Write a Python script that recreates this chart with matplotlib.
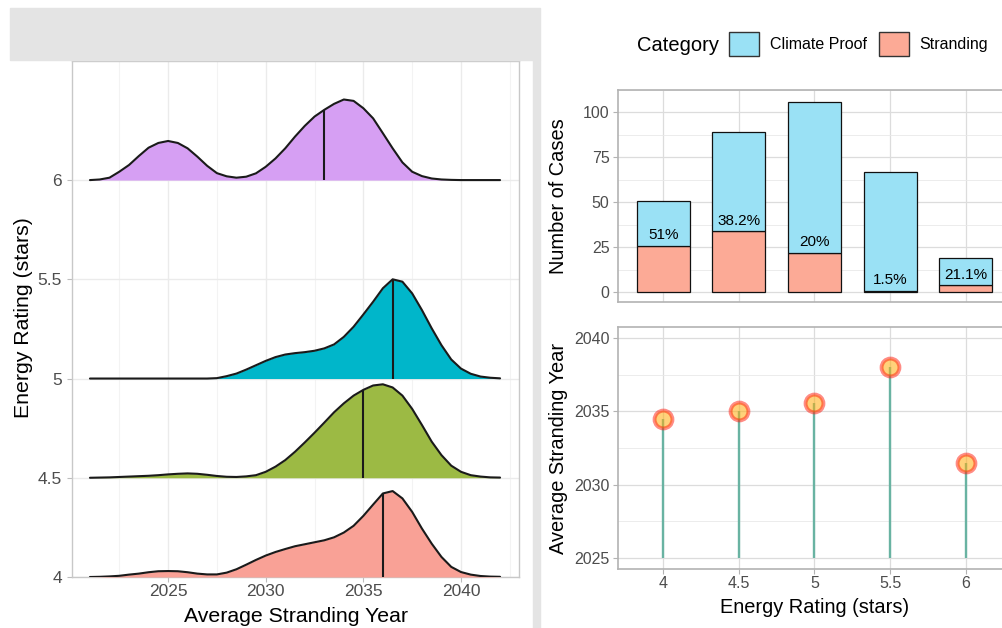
import numpy as np
import matplotlib.pyplot as plt
from matplotlib.patches import Rectangle, Patch

plt.rcParams['font.family'] = ['Liberation Sans', 'DejaVu Sans']

W, H = 1002, 628

# ---- ridgeline data (density height in rating units, every half year 2021-2042)
years = np.arange(2021.0, 2042.01, 0.5)
ratings = [6, 5, 4.5, 4]
dens_6 = [0, 0.003, 0.012, 0.042, 0.076, 0.121, 0.163, 0.187, 0.197, 0.187,
          0.160, 0.118, 0.072, 0.035, 0.019, 0.012, 0.017, 0.034, 0.067, 0.109,
          0.160, 0.219, 0.273, 0.320, 0.354, 0.384, 0.406, 0.399, 0.362, 0.311,
          0.236, 0.160, 0.089, 0.042, 0.020, 0.008, 0.003, 0.001, 0, 0,
          0, 0, 0]
dens_5 = [0, 0, 0, 0, 0, 0, 0, 0, 0, 0,
          0, 0, 0, 0.002, 0.012, 0.025, 0.045, 0.067, 0.089, 0.108,
          0.121, 0.128, 0.133, 0.140, 0.152, 0.172, 0.210, 0.261, 0.323, 0.387,
          0.455, 0.500, 0.488, 0.429, 0.345, 0.253, 0.168, 0.096, 0.050, 0.024,
          0.010, 0.004, 0.001]
dens_45 = [0, 0.001, 0.002, 0.004, 0.006, 0.008, 0.010, 0.013, 0.017, 0.020,
           0.022, 0.020, 0.015, 0.009, 0.005, 0.004, 0.007, 0.013, 0.030, 0.056,
           0.089, 0.131, 0.178, 0.227, 0.278, 0.330, 0.375, 0.414, 0.443, 0.465,
           0.471, 0.455, 0.414, 0.347, 0.266, 0.182, 0.114, 0.061, 0.030, 0.013,
           0.006, 0.002, 0.001]
dens_4 = [0, 0.001, 0.003, 0.006, 0.012, 0.017, 0.024, 0.029, 0.030, 0.029,
          0.024, 0.017, 0.013, 0.013, 0.022, 0.039, 0.062, 0.086, 0.108, 0.126,
          0.141, 0.155, 0.165, 0.175, 0.185, 0.200, 0.224, 0.258, 0.308, 0.365,
          0.421, 0.433, 0.396, 0.328, 0.244, 0.168, 0.101, 0.051, 0.025, 0.012,
          0.005, 0.002, 0.001]
medians = [2033.0, 2036.5, 2035.0, 2036.0]
ridge_colors = ['#D69FF3', '#00B6CA', '#9CBA44', '#F9A196']

# ---- bar / lollipop data
cats = ['4', '4.5', '5', '5.5', '6']
stranding = [26, 34, 22, 1, 4]
climate_proof = [25, 55, 84, 66, 15]
pct_labels = ['51%', '38.2%', '20%', '1.5%', '21.1%']
avg_year = [2034.5, 2035.0, 2035.6, 2038.0, 2031.5]

fig = plt.figure(figsize=(W / 100, H / 100), dpi=100)


def px_axes(l, t, r, b):
    return fig.add_axes([l / W, 1 - b / H, (r - l) / W, (b - t) / H])


# grey banner + strip of the left image
fig.patches.append(Rectangle((10 / W, 1 - 60 / H), 530 / W, 52 / H,
                             transform=fig.transFigure, color='#e4e4e4', zorder=0))
fig.patches.append(Rectangle((533 / W, 0), 7 / W, 1 - 60 / H,
                             transform=fig.transFigure, color='#e4e4e4', zorder=0))

tick_grey = '#4d4d4d'

# ---------------- left: ridgeline
ax1 = px_axes(72, 61, 519, 577)
for i, (r, d) in enumerate(zip(ratings, [dens_6, dens_5, dens_45, dens_4])):
    d = np.array(d)
    z = 2 + i
    ax1.fill_between(years, r, r + d, color=ridge_colors[i], lw=0, zorder=z)
    ax1.plot(years, r + d, color='#1a1a1a', lw=1.5, zorder=z + 0.1,
             solid_joinstyle='round', solid_capstyle='round')
    h = np.interp(medians[i], years, d)
    ax1.vlines(medians[i], r, r + h, color='#1a1a1a', lw=1.5, zorder=z + 0.2)

ax1.set_xlim(2020.08, 2042.97)
ax1.set_ylim(4, 6.6)
ax1.set_xticks([2025, 2030, 2035, 2040])
ax1.set_xticks([2022.5, 2027.5, 2032.5, 2037.5, 2042.5], minor=True)
ax1.set_yticks([4, 4.5, 5, 5.5, 6])
ax1.set_yticklabels(['4', '4.5', '5', '5.5', '6'])
ax1.grid(which='major', color='#ebebeb', lw=1.0)
ax1.grid(which='minor', axis='x', color='#f3f3f3', lw=0.8)
ax1.set_axisbelow(True)
ax1.tick_params(which='major', length=3.6, width=0.8, color='#bdbdbd',
                labelcolor=tick_grey, labelsize=12.5)
ax1.tick_params(axis='y', pad=3.6)
ax1.tick_params(axis='x', pad=1.5)
ax1.tick_params(which='minor', length=0)
for s in ax1.spines.values():
    s.set_color('#c8c8c8')
    s.set_linewidth(1.0)
fig.text(295.5 / W, 1 - 622 / H, 'Average Stranding Year', ha='center',
         va='baseline', fontsize=15.3)
fig.text(24 / W, 1 - 318 / H, 'Energy Rating (stars)', rotation=90,
         ha='center', va='center', fontsize=15.3)

# ---------------- right top: stacked bars
x = np.arange(1, len(cats) + 1)
col_cp = '#9AE1F5'
col_st = '#FCAA96'
ax2 = px_axes(618, 90, 1011, 302)
ax2.bar(x, stranding, width=0.7, color=col_st, edgecolor='#111111', lw=0.9, zorder=3)
ax2.bar(x, climate_proof, width=0.7, bottom=stranding, color=col_cp,
        edgecolor='#111111', lw=0.9, zorder=3)
for xi, s, lab in zip(x, stranding, pct_labels):
    ax2.annotate(lab, (xi, s), xytext=(0, 2.5), textcoords='offset points',
                 ha='center', va='bottom', fontsize=11, zorder=4)
ax2.set_xlim(0.4, 5.6)
ax2.set_ylim(-5.3, 111.3)
ax2.set_xticks(x)
ax2.set_yticks([0, 25, 50, 75, 100])
ax2.set_yticks([12.5, 37.5, 62.5, 87.5, 112.5], minor=True)
ax2.grid(which='major', color='#dcdcdc', lw=0.9)
ax2.grid(which='minor', axis='y', color='#e9e9e9', lw=0.6)
ax2.set_axisbelow(True)
ax2.tick_params(axis='x', length=0, labelbottom=False)
ax2.tick_params(axis='y', which='major', length=3.6, width=0.8, color='#b3b3b3',
                labelcolor=tick_grey, labelsize=11.5, pad=2.5)
ax2.tick_params(which='minor', length=0)
for s in ax2.spines.values():
    s.set_color('#b3b3b3')
    s.set_linewidth(1.2)
fig.text(559 / W, 1 - 196 / H, 'Number of Cases', rotation=90, ha='center',
         va='center', fontsize=14.4)

# legend
fig.text(637 / W, 1 - 51 / H, 'Category', ha='left', va='baseline', fontsize=14.5)
handles = [Patch(facecolor=col_cp, edgecolor='#333333', lw=1.0),
           Patch(facecolor=col_st, edgecolor='#333333', lw=1.0)]
fig.legend(handles, ['Climate Proof', 'Stranding'], ncol=2, loc='center left',
           bbox_to_anchor=(729 / W, 1 - 44 / H), frameon=False, borderpad=0,
           borderaxespad=0, handlelength=1.9, handleheight=1.85,
           handletextpad=0.65, columnspacing=0.75, fontsize=11.5)

# ---------------- right bottom: lollipop
ax3 = px_axes(618, 327, 1011, 569)
ax3.vlines(x, 2025, avg_year, color='#69b3a2', lw=1.7, zorder=3)
ax3.scatter(x, avg_year, s=165, facecolors=[(1.0, 0.68, 0.05, 0.55)],
            edgecolors=[(1.0, 0.1, 0.05, 0.5)], linewidths=2.8, zorder=4)
ax3.set_xlim(0.4, 5.6)
ax3.set_ylim(2024.25, 2040.75)
ax3.set_xticks(x)
ax3.set_xticklabels(cats)
ax3.set_yticks([2025, 2030, 2035, 2040])
ax3.set_yticks([2027.5, 2032.5, 2037.5], minor=True)
ax3.grid(which='major', color='#dcdcdc', lw=0.9)
ax3.grid(which='minor', axis='y', color='#e9e9e9', lw=0.6)
ax3.set_axisbelow(True)
ax3.tick_params(which='major', length=3.6, width=0.8, color='#b3b3b3',
                labelcolor=tick_grey, labelsize=11.5)
ax3.tick_params(axis='y', pad=2.5)
ax3.tick_params(axis='x', pad=1.5)
ax3.tick_params(which='minor', length=0)
for s in ax3.spines.values():
    s.set_color('#b3b3b3')
    s.set_linewidth(1.2)
fig.text(558 / W, 1 - 448 / H, 'Average Stranding Year', rotation=90,
         ha='center', va='center', fontsize=14.4)
fig.text(815 / W, 1 - 613 / H, 'Energy Rating (stars)', ha='center',
         va='baseline', fontsize=14.4)

fig.savefig('out.png', dpi=100, facecolor='white')
